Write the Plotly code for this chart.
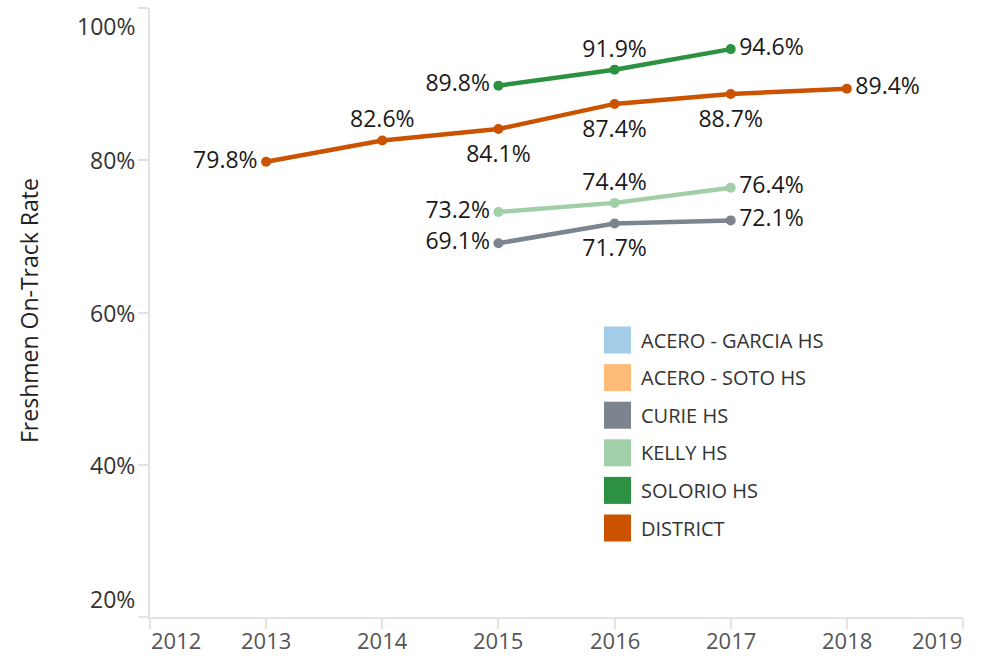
import plotly.graph_objects as go

series_names = ["ACERO - GARCIA HS", "ACERO - SOTO HS", "CURIE HS", "KELLY HS", "SOLORIO HS", "DISTRICT"]
series_colors = ["#a3cce9", "#ffbc79", "#7b848f", "#a0cfa8", "#2c9140", "#cb5300"]

district_years = [2013, 2014, 2015, 2016, 2017, 2018]
district_vals = [79.8, 82.6, 84.1, 87.4, 88.7, 89.4]
district_pos = ["middle left", "top center", "bottom center", "bottom center", "bottom center", "middle right"]

solorio_years = [2015, 2016, 2017]
solorio_vals = [89.8, 91.9, 94.6]
solorio_pos = ["middle left", "top center", "middle right"]

kelly_years = [2015, 2016, 2017]
kelly_vals = [73.2, 74.4, 76.4]
kelly_pos = ["middle left", "top center", "middle right"]

curie_years = [2015, 2016, 2017]
curie_vals = [69.1, 71.7, 72.1]
curie_pos = ["middle left", "bottom center", "middle right"]

x_ticks = [2012, 2013, 2014, 2015, 2016, 2017, 2018, 2019]
y_ticks = [20, 40, 60, 80, 100]

FONT = "Open Sans"
LABEL_SIZE = 23
# invisible marker size per label position (controls label offset from the point)
POS_PAD = {"middle left": 12, "middle right": 12, "top center": 10, "bottom center": 23}

fig = go.Figure()

def add_series(xs, ys, pos, color, name):
    fig.add_trace(go.Scatter(
        x=xs, y=ys, mode="lines+markers", name=name,
        line=dict(color=color, width=4.5),
        marker=dict(color=color, size=10, line=dict(width=0)),
        cliponaxis=False, showlegend=False,
    ))
    fig.add_trace(go.Scatter(
        x=xs, y=ys, mode="markers+text", name=name,
        marker=dict(color=color, opacity=0, size=[POS_PAD[p] for p in pos], line=dict(width=0)),
        text=[f"{v:.1f}%" for v in ys], textposition=pos,
        textfont=dict(family=FONT, size=LABEL_SIZE, color="#1a1a1a"),
        cliponaxis=False, showlegend=False, hoverinfo="skip",
    ))

add_series(curie_years, curie_vals, curie_pos, series_colors[2], series_names[2])
add_series(kelly_years, kelly_vals, kelly_pos, series_colors[3], series_names[3])
add_series(district_years, district_vals, district_pos, series_colors[5], series_names[5])
add_series(solorio_years, solorio_vals, solorio_pos, series_colors[4], series_names[4])

L, R, T, B = 150, 20, 8, 41
W, H = 983, 658
pw, ph = W - L - R, H - T - B

annotations = []
# y tick labels (edge labels tucked inside like the original)
for v in y_ticks:
    anchor = "top" if v == max(y_ticks) else ("bottom" if v == min(y_ticks) else "middle")
    annotations.append(dict(x=0, xref="paper", y=v, yref="y", text=f"{v}%",
                            xanchor="right", yanchor=anchor, xshift=-13, showarrow=False,
                            font=dict(family=FONT, size=LABEL_SIZE, color="#333333")))
# x tick labels
for v in x_ticks:
    anchor = "left" if v == min(x_ticks) else ("right" if v == max(x_ticks) else "center")
    annotations.append(dict(x=v, xref="x", y=0, yref="paper", text=str(v),
                            xanchor=anchor, yanchor="top", yshift=-7, borderpad=0, showarrow=False,
                            font=dict(family=FONT, size=22, color="#555555")))

# y axis title
annotations.append(dict(x=(29 - L) / pw, xref="paper", y=(H - B - 310) / ph, yref="paper",
                        text="Freshmen On-Track Rate", textangle=-90, showarrow=False,
                        xanchor="center", yanchor="middle",
                        font=dict(family=FONT, size=23, color="#222222")))

# legend
shapes = []
leg_x0 = 604
leg_y0 = 340
leg_step = 37.6
sq = 27
for i, (nm, col) in enumerate(zip(series_names, series_colors)):
    cy = leg_y0 + i * leg_step
    shapes.append(dict(type="rect", xref="paper", yref="paper",
                       x0=(leg_x0 - L) / pw, x1=(leg_x0 + sq - L) / pw,
                       y0=(H - B - (cy + sq / 2)) / ph, y1=(H - B - (cy - sq / 2)) / ph,
                       fillcolor=col, line=dict(width=0)))
    annotations.append(dict(x=(leg_x0 + sq + 8 - L) / pw, xref="paper",
                            y=(H - B - cy) / ph, yref="paper", text=nm,
                            xanchor="left", yanchor="middle", showarrow=False,
                            font=dict(family=FONT, size=20, color="#333333")))

fig.update_layout(
    width=W, height=H,
    margin=dict(l=L, r=R, t=T, b=B, pad=0),
    plot_bgcolor="white", paper_bgcolor="white",
    font=dict(family=FONT, color="#333333"),
    xaxis=dict(range=[2012, 2019], tickvals=x_ticks, showticklabels=False,
               showgrid=False, zeroline=False, showline=True, linecolor="#e3e3e3", linewidth=1.5,
               ticks="outside", ticklen=10, tickcolor="#e3e3e3", tickwidth=1.5, fixedrange=True),
    yaxis=dict(range=[20, 100], tickvals=y_ticks, showticklabels=False,
               showgrid=False, zeroline=False, showline=True, linecolor="#e3e3e3", linewidth=1.5,
               ticks="outside", ticklen=10, tickcolor="#e3e3e3", tickwidth=1.5, fixedrange=True),
    annotations=annotations,
    shapes=shapes,
    showlegend=False,
)

fig.write_html("out.html")
